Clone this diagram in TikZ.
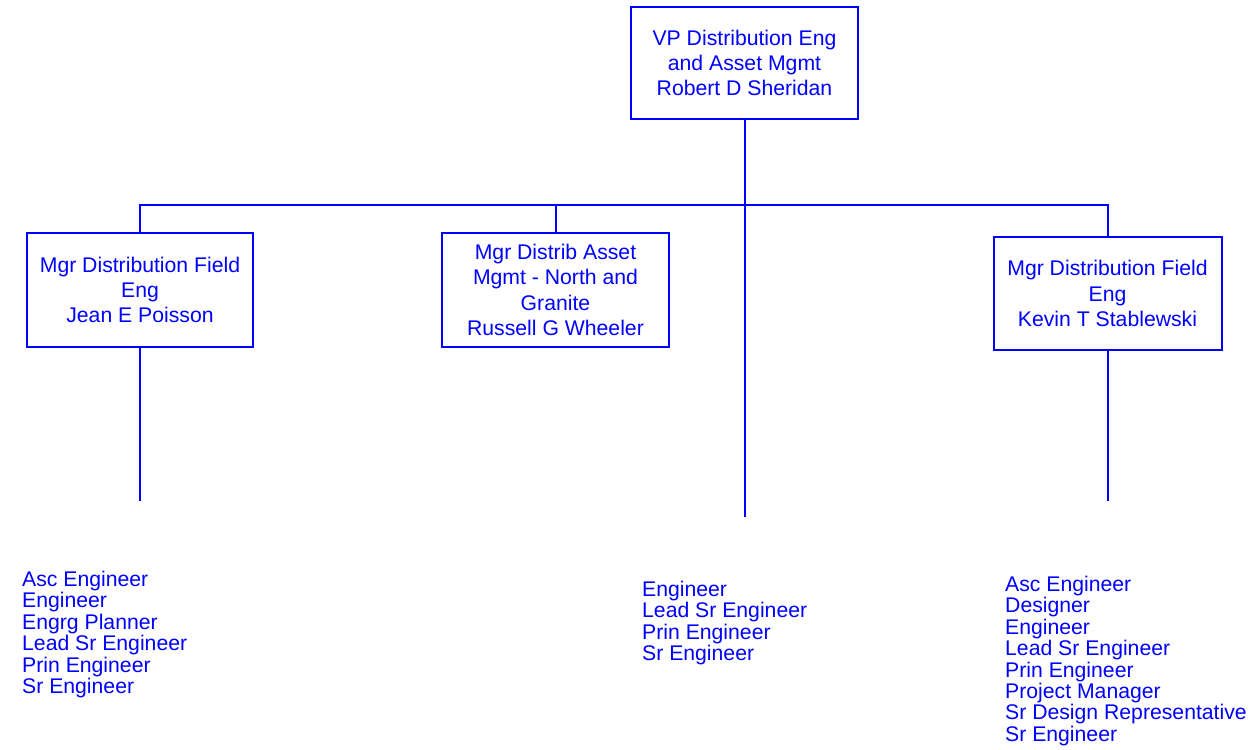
\documentclass[tikz,border=0pt]{standalone}
\usepackage{fontspec}
\setmainfont{Liberation Sans}
\begin{document}
\begin{tikzpicture}[x=1pt,y=-1pt,
  orgbox/.style={draw=blue,line width=2pt,text=blue,align=center,inner sep=0pt,
    font=\fontsize{21.2}{25.3}\selectfont},
  roles/.style={text=blue,align=left,inner sep=0pt,anchor=north west,
    font=\fontsize{21.2}{21.4}\selectfont},
  link/.style={draw=blue,line width=2pt}]
\useasboundingbox (0,0) rectangle (1251,750);
\node[orgbox,minimum width=227pt,minimum height=112pt] (vp) at (744.5,63)
  {VP Distribution Eng\\and Asset Mgmt\\Robert D Sheridan};
\node[orgbox,minimum width=226pt,minimum height=114pt] (b1) at (140,290)
  {Mgr Distribution Field\\Eng\\Jean E Poisson};
\node[orgbox,minimum width=227pt,minimum height=114pt] (b2) at (555.5,290)
  {Mgr Distrib Asset\\Mgmt - North and\\Granite\\Russell G Wheeler};
\node[orgbox,minimum width=228pt,minimum height=113pt] (b3) at (1107.5,293.5)
  {Mgr Distribution Field\\Eng\\Kevin T Stablewski};
\coordinate (busL) at (140,205);
\coordinate (busR) at (1107.5,205);
\coordinate (midEnd) at (744.5,517);
\coordinate (leftEnd) at (140,501);
\coordinate (rightEnd) at (1107.5,501);
\draw[link] (b1.north) -- (busL) -- (busR) -- (b3.north);
\draw[link] (b2.north) -- (b2.north |- busL);
\draw[link] (vp.south) -- (midEnd);
\draw[link] (b1.south) -- (leftEnd);
\draw[link] (b3.south) -- (rightEnd);
\node[roles] (l1) at (22,571)
  {Asc Engineer\\Engineer\\Engrg Planner\\Lead Sr Engineer\\Prin Engineer\\Sr Engineer};
\node[roles] (l2) at (642,581)
  {Engineer\\Lead Sr Engineer\\Prin Engineer\\Sr Engineer};
\node[roles] (l3) at (1005,576)
  {Asc Engineer\\Designer\\Engineer\\Lead Sr Engineer\\Prin Engineer\\Project Manager\\Sr Design Representative\\Sr Engineer};
\end{tikzpicture}
\end{document}
